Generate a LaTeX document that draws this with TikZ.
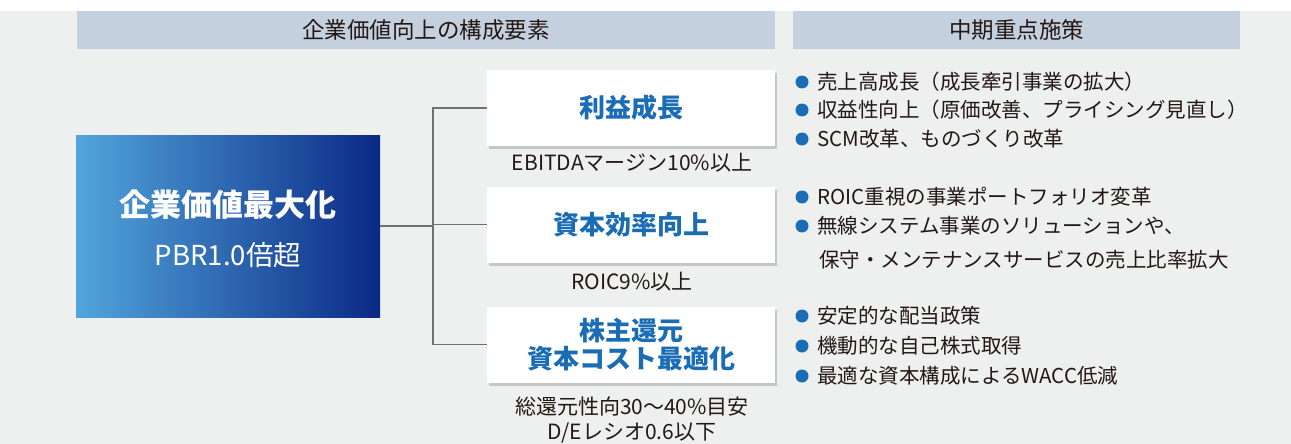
\documentclass[tikz,border=0pt]{standalone}
\usepackage{fontspec}
\setmainfont{Noto Sans CJK JP}
\usetikzlibrary{shadows}
\definecolor{bg}{HTML}{EEF0F0}
\definecolor{hdr}{HTML}{C5D0DE}
\definecolor{txt}{HTML}{231815}
\definecolor{accent}{HTML}{1A6DB5}
\definecolor{gradL}{HTML}{52A5DC}
\definecolor{gradR}{HTML}{0A2A85}
\definecolor{conn}{HTML}{707070}
\tikzset{
  hdrbar/.style={fill=hdr, draw=none, inner sep=0pt, text=txt, font=\fontsize{22.5}{26}\selectfont},
  goalbox/.style={fill=white, draw=none, minimum width=288pt, minimum height=76pt, inner sep=0pt,
     text=accent, font=\bfseries\fontsize{26}{32}\selectfont, align=center,
     drop shadow={shadow xshift=2pt, shadow yshift=-3pt, opacity=0.25, fill=black!70}},
  kpi/.style={inner sep=0pt, text=txt, font=\fontsize{21}{25}\selectfont, align=center},
  item/.style={inner sep=0pt, anchor=west, text=txt, font=\fontsize{20.5}{34}\selectfont, align=left},
  dot/.style={circle, fill=accent, draw=none, minimum size=13pt, inner sep=0pt},
  link/.style={draw=conn, line width=1.6pt},
}
\begin{document}
\begin{tikzpicture}[x=1pt, y=-1pt]
\useasboundingbox (0,0) rectangle (1291,444);
\fill[white] (0,0) rectangle (1291,11);
\fill[bg] (0,11) rectangle (1291,444);
% headers
\node[hdrbar, minimum width=698pt, minimum height=38pt] (hL) at (426,30) {企業価値向上の構成要素};
\node[hdrbar, minimum width=447pt, minimum height=38pt] (hR) at (1016.5,30) {中期重点施策};
% main box
\node[left color=gradL, right color=gradR, draw=none, minimum width=304pt, minimum height=182pt, inner sep=0pt] (main) at (228,226) {};
\node[text=white, font=\bfseries\fontsize{31}{36}\selectfont, inner sep=0pt] (mt) at (228,205) {企業価値最大化};
\node[text=white, font=\fontsize{27.5}{30}\selectfont, inner sep=0pt] (ms) at (228,255) {PBR1.0倍超};
% goal boxes
\node[goalbox] (b1) at (631,108) {利益成長};
\node[goalbox] (b2) at (631,224.5) {資本効率向上};
\node[goalbox] (b3) at (631,344.5) {株主還元\\[-4pt]資本コスト最適化};
% connectors
\coordinate (jn) at (433,226);
\draw[link] (main.east) -- (jn);
\draw[link] (jn) |- (b1);
\draw[link] (jn) |- (b2);
\draw[link] (jn) |- (b3);
% KPI labels
\node[kpi] (k1) at (632,163) {EBITDAマージン10\%以上};
\node[kpi] (k2) at (632,282) {ROIC9\%以上};
\node[kpi] (k3) at (632,420.5) {総還元性向30〜40\%目安\\D/Eレシオ0.6以下};
% bullet items
\node[dot] (d11) at (802,82) {};
\node[item] (i11) at (817,82) {売上高成長（成長牽引事業の拡大）};
\node[dot] (d12) at (802,110) {};
\node[item] (i12) at (817,110) {収益性向上（原価改善、プライシング見直し）};
\node[dot] (d13) at (802,139) {};
\node[item] (i13) at (817,139) {SCM改革、ものづくり改革};
\node[dot] (d21) at (802,197) {};
\node[item] (i21) at (817,197) {ROIC重視の事業ポートフォリオ変革};
\node[dot] (d22) at (802,226) {};
\node[item] (i22) at (817,243) {無線システム事業のソリューションや、\\\hspace{2pt}保守・メンテナンスサービスの売上比率拡大};
\node[dot] (d31) at (802,316) {};
\node[item] (i31) at (817,316) {安定的な配当政策};
\node[dot] (d32) at (802,346) {};
\node[item] (i32) at (817,346) {機動的な自己株式取得};
\node[dot] (d33) at (802,376) {};
\node[item] (i33) at (817,376) {最適な資本構成によるWACC低減};
\end{tikzpicture}
\end{document}
